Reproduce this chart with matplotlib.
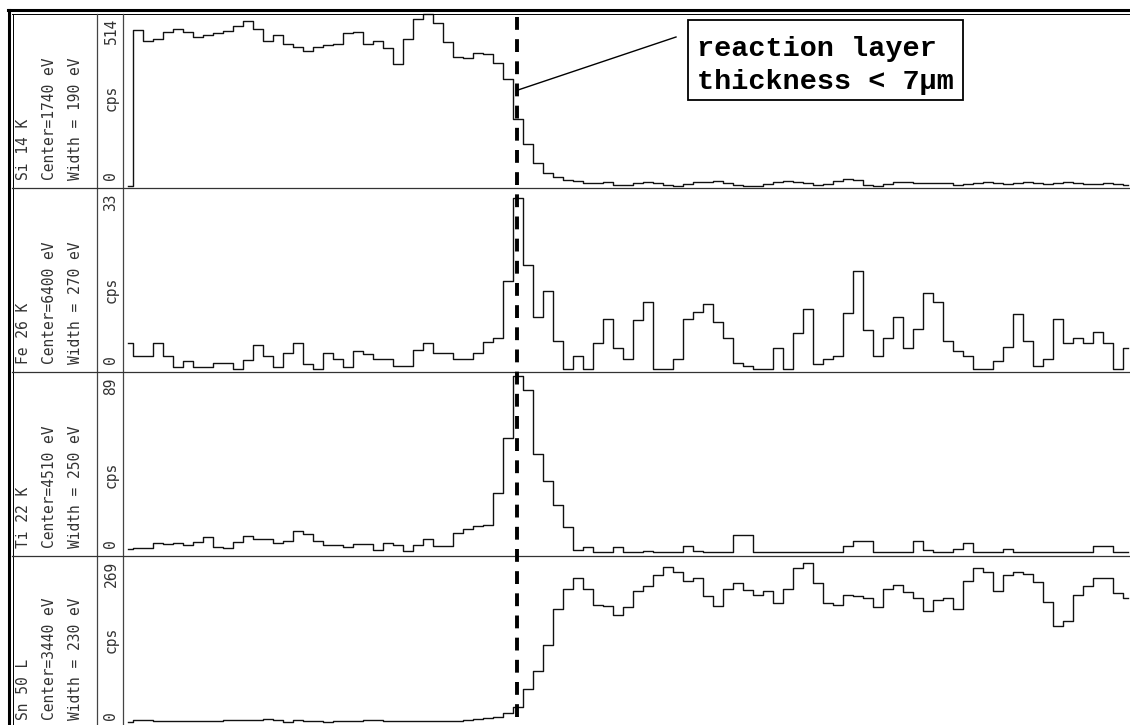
import numpy as np
import matplotlib
matplotlib.use("Agg")
import matplotlib.pyplot as plt
from matplotlib.patches import Rectangle

# EDX line scan across the reaction layer, counts per second at each scan step
scan_pos = np.arange(101)

si_cps = [0, 465, 432, 440, 460, 468, 460, 444, 450, 458,
          462, 478, 492, 470, 432, 450, 423, 414, 404, 414,
          420, 423, 458, 460, 425, 432, 412, 366, 440, 500,
          514, 488, 430, 385, 384, 398, 395, 368, 320, 200,
          125, 70, 38, 28, 18, 14, 10, 8, 12, 4,
          3, 8, 12, 10, 2, 1, 6, 12, 13, 14,
          10, 4, 1, 1, 6, 12, 16, 12, 8, 3,
          6, 14, 20, 18, 3, 1, 6, 12, 12, 8,
          8, 10, 8, 4, 6, 9, 11, 8, 5, 8,
          12, 10, 6, 8, 11, 9, 5, 7, 10, 6,
          4]

fe_cps = [5, 2.5, 2.5, 5, 2.5, 0.3, 1.5, 0.3, 0.3, 1.2,
          1.2, 0, 1.8, 4.6, 2.5, 0.3, 3, 5, 1, 0,
          3, 2, 0.3, 3.5, 2.8, 2, 2, 0.5, 0.5, 3.7,
          5, 3, 3, 2, 2, 3, 5.2, 6, 17, 33,
          20, 10, 15, 5.5, 0, 2.5, 0, 5, 9.6, 4,
          2, 9.5, 13, 0, 0, 2, 9.6, 11, 12.5, 9,
          6, 1.2, 0.5, 0, 0, 4, 0, 7, 11.5, 1,
          2, 2.5, 10.8, 19, 7.5, 2.5, 6, 10, 4, 7.7,
          14.7, 13, 5.5, 3.5, 2.5, 0, 0, 1.5, 4.2, 10.6,
          5.5, 0.5, 2, 9.6, 5, 6, 5, 7.2, 5, 0,
          4]

ti_cps = [2, 2.5, 2.5, 5, 4.5, 5, 4, 5.5, 8, 3,
          2.5, 5.5, 8.5, 7, 7, 5, 6, 11, 9.5, 6,
          4, 4, 3, 4.4, 4.4, 1.5, 5, 4, 1.2, 4,
          7, 3.5, 3.5, 10, 12, 13.5, 14, 30, 58, 89,
          82, 50, 36, 24, 13, 1.5, 3, 0.5, 0.5, 3,
          0.5, 0.5, 0.8, 0.3, 0.3, 0.5, 3.5, 0.8, 0.5, 0.5,
          0.5, 9, 9, 0.5, 0.5, 0.5, 0.5, 0.5, 0.5, 0.5,
          0.5, 0.5, 3.5, 6, 6, 0.5, 0.5, 0.5, 0.5, 6,
          1.5, 0.3, 0.3, 2, 5, 0.5, 0.5, 0.5, 2, 0.3,
          0.3, 0.3, 0.3, 0.3, 0.3, 0.3, 0.3, 3.5, 3.5, 0.3,
          0.3]

sn_cps = [0, 3, 3, 2, 1, 1.5, 2, 1, 1, 2,
          3, 3.5, 3, 4, 4.5, 3, 0.5, 3, 2, 1,
          0.5, 1, 1, 2, 3, 3, 1.5, 1, 1, 1,
          1.5, 1.5, 2, 2.5, 4, 5, 6, 9, 15, 25,
          55, 85, 128, 188, 222, 240, 222, 195, 194, 178,
          192, 219, 228, 245, 259, 250, 236, 240, 210, 193,
          222, 232, 220, 213, 219, 198, 222, 257, 265, 232,
          198, 195, 212, 210, 208, 192, 222, 229, 217, 208,
          186, 204, 208, 188, 235, 257, 250, 219, 245, 251,
          248, 234, 200, 160, 168, 212, 228, 240, 240, 215,
          208]

elements = ["Si 14 K", "Fe 26 K", "Ti 22 K", "Sn 50 L"]
centers = ["Center=1740 eV", "Center=6400 eV", "Center=4510 eV", "Center=3440 eV"]
widths = ["Width = 190 eV", "Width = 270 eV", "Width = 250 eV", "Width = 230 eV"]
max_labels = [514, 33, 89, 269]
series = [si_cps, fe_cps, ti_cps, sn_cps]

W, H = 1130, 725
# panel rows in pixels: (top, bottom, px of 0 cps, px of max cps)
rows = [(13, 188, 186, 14), (188, 372, 369, 198), (372, 556, 553, 376), (556, 740, 722, 561)]
cps_y = [98, 290, 475, 640]

fig = plt.figure(figsize=(W / 100, H / 100), dpi=100)


def rect(x0, y0, x1, y1):
    return [x0 / W, 1 - y1 / H, (x1 - x0) / W, (y1 - y0) / H]


for vals, vmax, (top, bot, zero, peak) in zip(series, max_labels, rows):
    ax = fig.add_axes(rect(123, top, W, bot))
    ax.step(scan_pos, vals, where="mid", color="#111111", lw=1.0)
    per_px = vmax / (zero - peak)
    ax.set_ylim((zero - bot) * per_px, (zero - top) * per_px)
    ax.set_xlim((123 - 128) / 10, (W - 128) / 10)
    ax.axis("off")

# overlay in pixel coordinates for frame, labels and annotation
ov = fig.add_axes([0, 0, 1, 1], zorder=5)
ov.set_xlim(0, W)
ov.set_ylim(H, 0)
ov.axis("off")

ov.plot([8, W], [10, 10], color="black", lw=2.2)
ov.plot([9, 9], [10, H], color="black", lw=2.2)
ov.plot([12, W], [13.5, 13.5], color="black", lw=0.7)
ov.plot([12.5, 12.5], [13.5, H], color="black", lw=0.7)
for x in (97, 123):
    ov.plot([x, x], [13.5, H], color="#444444", lw=0.9)
for top, bot, zero, peak in rows[1:]:
    ov.plot([12, W], [top, top], color="#333333", lw=0.9)

mono = dict(family="DejaVu Sans Mono", fontsize=10.5, color="#333333",
            rotation=90, rotation_mode="anchor", va="center")
for k, (top, bot, zero, peak) in enumerate(rows):
    base = min(bot - 8, 720)
    ov.text(24, base, elements[k], ha="left", **mono)
    ov.text(49, base, centers[k], ha="left", **mono)
    ov.text(76, base, widths[k], ha="left", **mono)
    ov.text(111, base - 4, "0", ha="center", **mono)
    ov.text(111, cps_y[k], "cps", ha="center", **mono)
    ov.text(111, top + 5, str(max_labels[k]), ha="right", **mono)

# interface marker and note
ov.plot([517, 517], [17, H], color="black", lw=2.8, dashes=(3.3, 2.4))
ov.plot([518, 676], [90, 37], color="black", lw=1.0)
ov.add_patch(Rectangle((688, 20), 275, 80, facecolor="white", edgecolor="black", lw=1.3))
note = dict(family="Liberation Mono", fontsize=20.5, fontweight="bold", color="black",
            ha="left", va="baseline")
ov.text(697, 56, "reaction layer", **note)
ov.text(697, 89, "thickness < 7µm", **note)

fig.savefig("out.png", dpi=100)
